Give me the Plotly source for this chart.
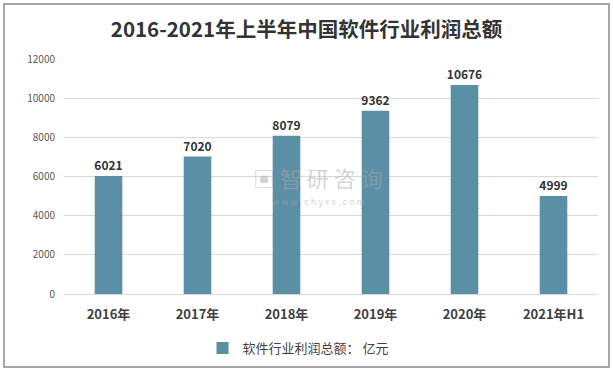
import plotly.graph_objects as go

categories = ["2016年", "2017年", "2018年", "2019年", "2020年", "2021年H1"]
profits = [6021, 7020, 8079, 9362, 10676, 4999]
y_ticks = [0, 2000, 4000, 6000, 8000, 10000, 12000]
series_name = "软件行业利润总额： 亿元"
title_text = "2016-2021年上半年中国软件行业利润总额"

FONT = "Microsoft YaHei, Noto Sans CJK SC, sans-serif"
L, R, T, B = 64, 15, 59, 77
W, H = 613, 371
pw, ph = W - L - R, H - T - B

def px_x(x):
    return (x - L) / pw

def px_y(y):
    return (H - B - y) / ph

fig = go.Figure()
fig.add_trace(go.Bar(
    x=categories, y=profits, name=series_name,
    marker=dict(color="#5B8FA6", line=dict(width=0)),
    width=0.31,
    text=["<b>" + str(v) + "</b>" for v in profits], textposition="outside",
    textfont=dict(family=FONT, size=12, color="#333333"),
    constraintext="none",
    cliponaxis=False,
))

fig.update_layout(
    width=W, height=H,
    margin=dict(l=L, r=R, t=T, b=B, autoexpand=False),
    paper_bgcolor="white", plot_bgcolor="white",
    title=dict(text="<b>" + title_text + "</b>", x=0.5, xanchor="center",
               y=1 - 30 / H, yanchor="middle",
               font=dict(family=FONT, size=20.5, color="#333333")),
    showlegend=True,
    legend=dict(orientation="h", x=px_x(298), xanchor="center",
                y=px_y(348), yanchor="middle",
                font=dict(family=FONT, size=13, color="#404040"),
                itemwidth=30),
    xaxis=dict(showline=True, linecolor="#D9D9D9", linewidth=1, ticks="",
               tickfont=dict(family=FONT, size=13, color="#404040"),
               showgrid=False, automargin=False, ticklabelstandoff=8,
               tickvals=categories,
               ticktext=["<b>" + c + "</b>" for c in categories]),
    yaxis=dict(range=[0, 12000], tickvals=y_ticks,
               ticktext=[str(v) for v in y_ticks], showgrid=True,
               gridcolor="#D9D9D9", gridwidth=1, zeroline=False,
               tickfont=dict(family=FONT, size=10, color="#595959"),
               ticks="", ticklabelstandoff=8, automargin=False),
    bargap=0.69,
)

# outer border
fig.add_shape(type="rect", xref="paper", yref="paper",
              x0=px_x(4), x1=px_x(609), y0=px_y(367), y1=px_y(4),
              line=dict(color="#A6A6A6", width=2), fillcolor="rgba(0,0,0,0)",
              layer="below")

# watermark
fig.add_annotation(xref="paper", yref="paper", x=px_x(318), y=px_y(177),
                   text="▣ 智 研 咨 询", showarrow=False,
                   font=dict(family=FONT, size=22, color="rgba(170,170,170,0.5)"))
fig.add_annotation(xref="paper", yref="paper", x=px_x(318), y=px_y(201),
                   text="w w w . c h y x x . c o m", showarrow=False,
                   font=dict(family=FONT, size=9, color="rgba(170,170,170,0.5)"))

fig.write_html("out.html", config={"displayModeBar": False},
               post_script="document.body.style.margin='0';document.body.style.overflow='hidden';")
